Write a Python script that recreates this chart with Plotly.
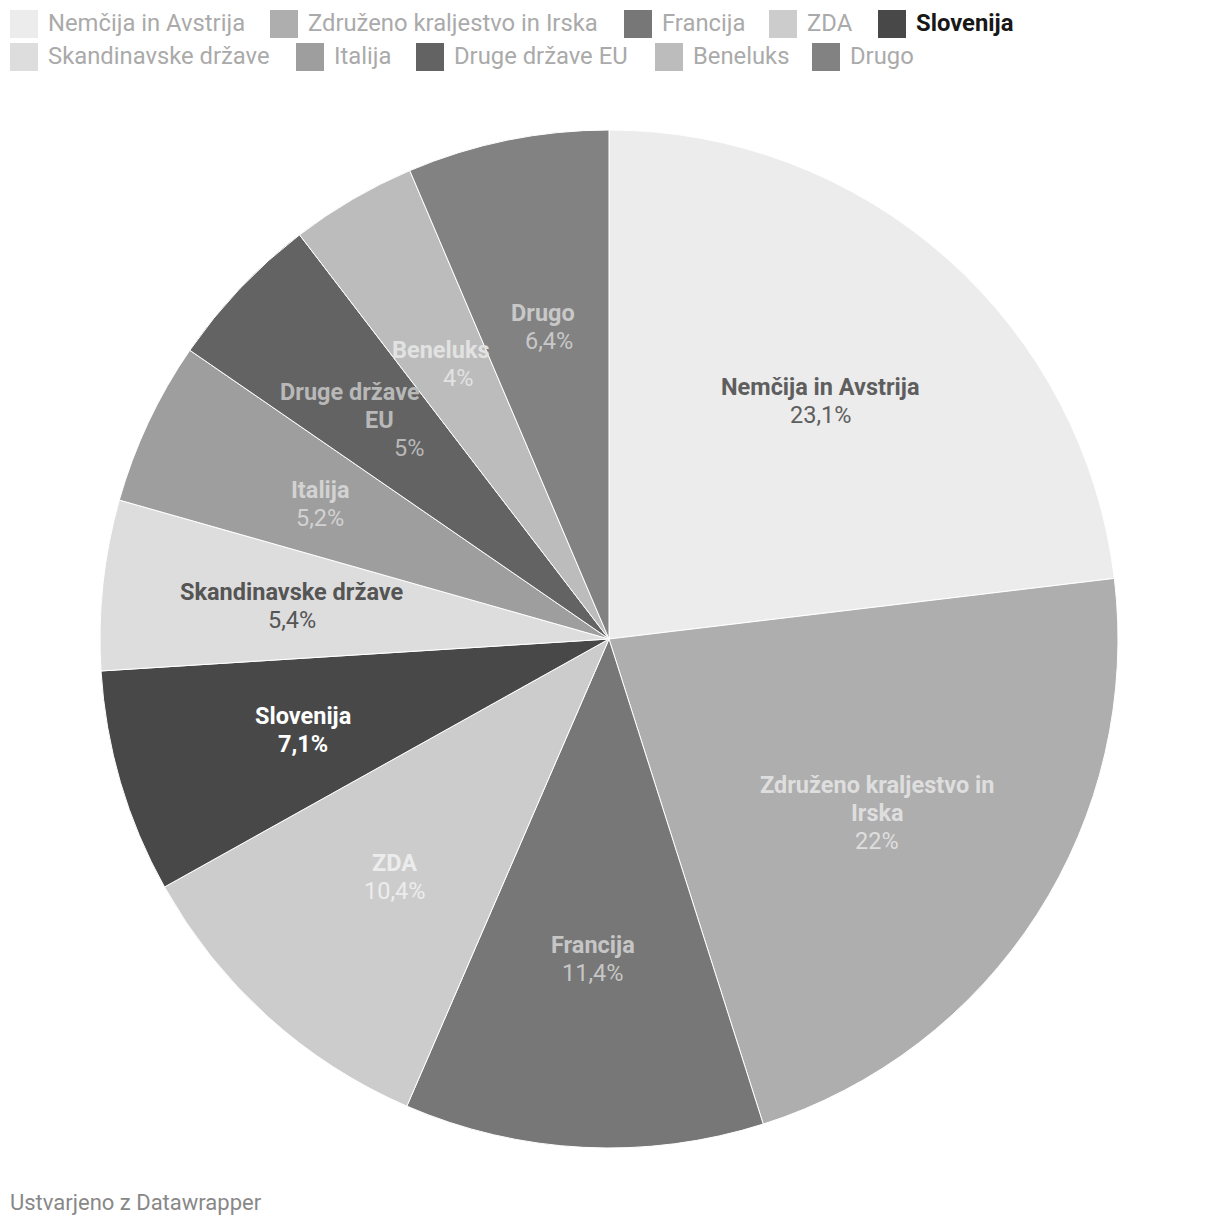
import math
import plotly.graph_objects as go

categories = ["Nemčija in Avstrija", "Združeno kraljestvo in Irska", "Francija", "ZDA",
              "Slovenija", "Skandinavske države", "Italija", "Druge države EU",
              "Beneluks", "Drugo"]
values = [23.1, 22.0, 11.4, 10.4, 7.1, 5.4, 5.2, 5.0, 4.0, 6.4]
value_labels = ["23,1%", "22%", "11,4%", "10,4%", "7,1%", "5,4%", "5,2%", "5%", "4%", "6,4%"]
slice_label_lines = [["Nemčija in Avstrija"], ["Združeno kraljestvo in", "Irska"], ["Francija"],
                     ["ZDA"], ["Slovenija"], ["Skandinavske države"], ["Italija"],
                     ["Druge države", "EU"], ["Beneluks"], ["Drugo"]]
colors = ["#ececec", "#aeaeae", "#777777", "#cccccc", "#484848",
          "#dddddd", "#9e9e9e", "#636363", "#bcbcbc", "#828282"]
label_colors = ["#5e5e5e", "#dedede", "#c6c6c6", "#ececec", "#ffffff",
                "#555555", "#d2d2d2", "#b8b8b8", "#e2e2e2", "#c8c8c8"]
highlight = "Slovenija"

W, H = 1220, 1226
CX, CY, R = 609, 639, 509
LINE_H = 28

# per-line horizontal nudges (pixels) used to keep crowded labels apart
line_nudges = {
    "Druge države EU": [-28, 2, 31],
    "Beneluks": [-7, 10],
    "Drugo": [-2, 4],
}

fig = go.Figure(go.Pie(
    labels=categories, values=values, sort=False, direction="clockwise", rotation=0,
    marker=dict(colors=colors, line=dict(color="#ffffff", width=1)),
    textinfo="none", hoverinfo="label+percent", showlegend=False,
    domain=dict(x=[(CX - R) / W, (CX + R) / W], y=[1 - (CY + R) / H, 1 - (CY - R) / H]),
))

annotations = []
shapes = []
total = sum(values)
cum = 0.0
for cat, val, lines, vl, lc in zip(categories, values, slice_label_lines, value_labels, label_colors):
    mid = (cum + val / 2) / total * 2 * math.pi
    cum += val
    rr = 0.627 * R
    px = CX + rr * math.sin(mid)
    py = CY - rr * math.cos(mid)
    all_lines = [(l, True) for l in lines] + [(vl, cat == highlight)]
    n = len(all_lines)
    nudges = line_nudges.get(cat, [0] * n)
    for k, (txt, bold) in enumerate(all_lines):
        ly = py + (k - (n - 1) / 2) * LINE_H + 1
        lx = px + nudges[k]
        annotations.append(dict(
            x=lx / W, y=1 - ly / H, xref="paper", yref="paper",
            text=f"<b>{txt}</b>" if bold else txt, showarrow=False,
            xanchor="center", yanchor="middle", align="center",
            font=dict(family="Roboto", size=23.5, color=lc)))

# legend (manual, two rows)
legend_rows = [
    [("Nemčija in Avstrija", 10), ("Združeno kraljestvo in Irska", 270), ("Francija", 624),
     ("ZDA", 769), ("Slovenija", 878)],
    [("Skandinavske države", 10), ("Italija", 296), ("Druge države EU", 416),
     ("Beneluks", 655), ("Drugo", 812)],
]
row_top = [10, 43]
for ri, row in enumerate(legend_rows):
    for name, x0 in row:
        i = categories.index(name)
        y0 = row_top[ri]
        shapes.append(dict(type="rect", xref="paper", yref="paper",
                           x0=x0 / W, x1=(x0 + 28) / W, y0=1 - y0 / H, y1=1 - (y0 + 28) / H,
                           fillcolor=colors[i], line=dict(width=0)))
        is_hl = name == highlight
        annotations.append(dict(
            x=(x0 + 36) / W, y=1 - (y0 + 13.5) / H, xref="paper", yref="paper",
            text=f"<b>{name}</b>" if is_hl else name, showarrow=False,
            xanchor="left", yanchor="middle",
            font=dict(family="Roboto", size=23.8, color="#181818" if is_hl else "#aaaaaa")))

annotations.append(dict(
    x=8 / W, y=1 - 1202 / H, xref="paper", yref="paper", text="Ustvarjeno z Datawrapper",
    showarrow=False, xanchor="left", yanchor="middle",
    font=dict(family="Roboto", size=22, color="#888888")))

fig.update_layout(
    width=W, height=H, margin=dict(l=0, r=0, t=0, b=0),
    paper_bgcolor="#ffffff", plot_bgcolor="#ffffff",
    annotations=annotations, shapes=shapes,
)
fig.write_html("out.html")
